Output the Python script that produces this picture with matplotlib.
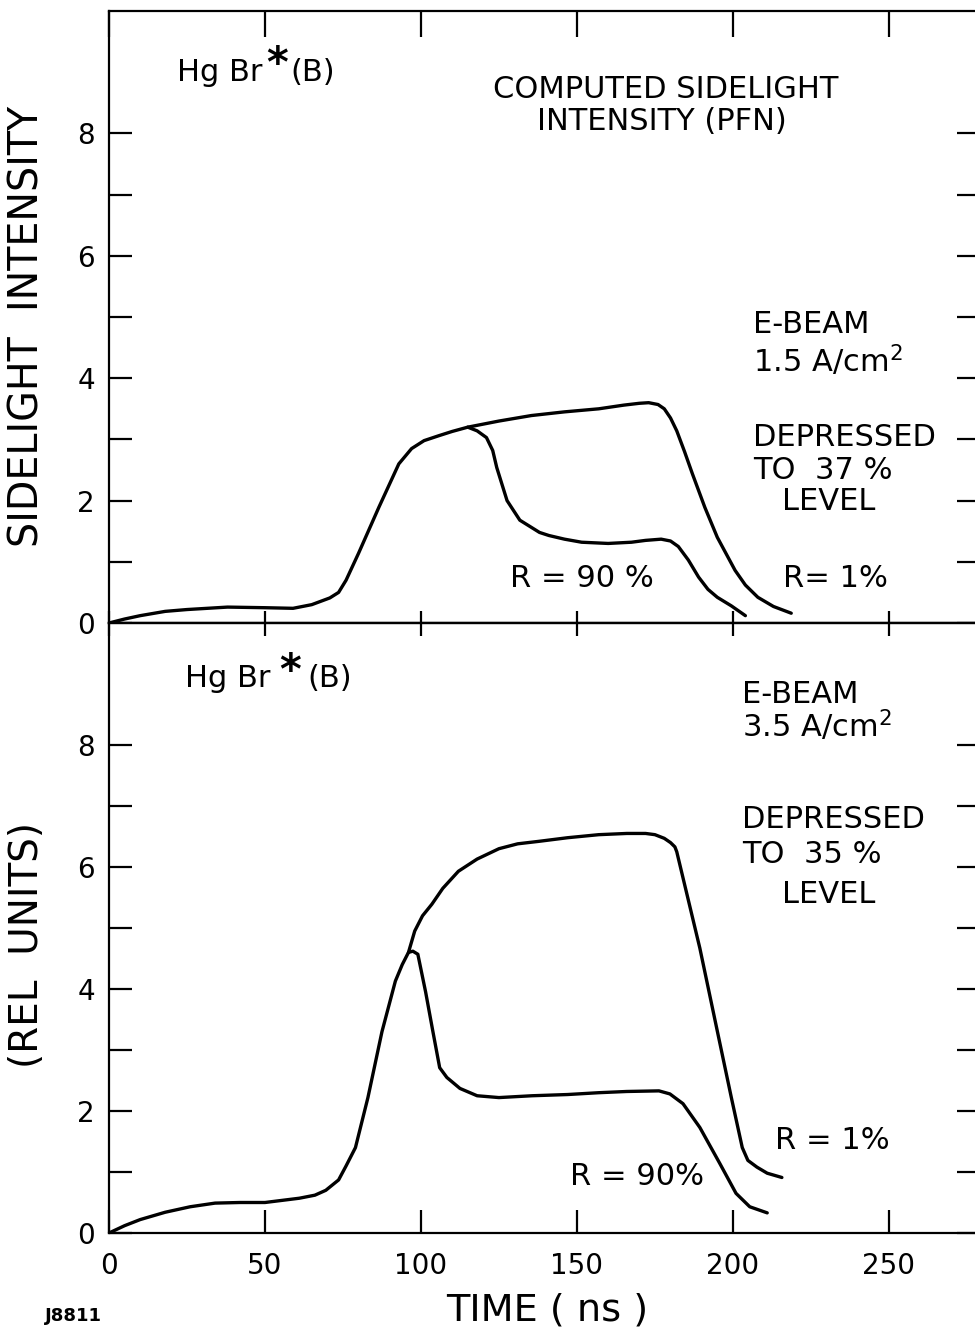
import numpy as np
import matplotlib

matplotlib.use("Agg")
import matplotlib.pyplot as plt

# ---------------------------------------------------------------------
# Computed sidelight intensity curves (time in ns, intensity rel. units)
# ---------------------------------------------------------------------
# upper panel: 1.5 A/cm^2 e-beam, shared rise then two branches
TOP_RISE_T = [0, 5, 10, 18, 25, 38, 50, 59, 65, 70.8, 73.6, 76, 80, 86.5,
              92.9, 97, 101, 105.7, 110, 115]
TOP_RISE_I = [0, 0.065, 0.12, 0.19, 0.22, 0.26, 0.25, 0.24, 0.3, 0.41, 0.5,
              0.7, 1.14, 1.89, 2.6, 2.85, 2.98, 3.06, 3.13, 3.2]
TOP_R1_T = [115, 125, 135.4, 146, 157, 165, 170, 173, 176, 178, 180, 182,
            184.5, 187, 191, 195, 200.7, 204, 208, 213, 218.7]
TOP_R1_I = [3.2, 3.3, 3.39, 3.45, 3.5, 3.56, 3.59, 3.6, 3.57, 3.5, 3.35, 3.14,
            2.8, 2.44, 1.89, 1.4, 0.86, 0.62, 0.42, 0.27, 0.16]
TOP_R90_T = [115, 118, 121, 123, 124.3, 127.6, 131.7, 138, 141, 146, 151.5,
             160, 167.5, 172, 177, 180, 182.5, 185.7, 189, 192, 195, 199.5, 204]
TOP_R90_I = [3.2, 3.14, 3.03, 2.82, 2.54, 2.0, 1.68, 1.48, 1.43, 1.37, 1.32,
             1.3, 1.32, 1.35, 1.37, 1.34, 1.25, 1.03, 0.75, 0.55, 0.42, 0.28,
             0.12]

# lower panel: 3.5 A/cm^2 e-beam
BOT_RISE_T = [0, 5, 10, 18, 26, 34, 42, 50, 61, 66, 69.5, 73.6, 76, 79, 83,
              87.5, 91.8, 94, 96]
BOT_RISE_I = [0, 0.12, 0.22, 0.34, 0.43, 0.49, 0.5, 0.5, 0.57, 0.62, 0.7,
              0.87, 1.1, 1.4, 2.22, 3.3, 4.13, 4.4, 4.6]
BOT_R1_T = [96, 98, 100.5, 103.5, 107, 112, 118, 125, 131, 137.7, 147, 157,
            166, 172, 175, 178, 180, 181.4, 182, 189.4, 195, 199.5, 203, 204.8,
            207.7, 211, 215.7]
BOT_R1_I = [4.6, 4.95, 5.2, 5.39, 5.65, 5.93, 6.13, 6.3, 6.38, 6.42, 6.48,
            6.53, 6.55, 6.55, 6.53, 6.47, 6.4, 6.33, 6.25, 4.67, 3.31, 2.22,
            1.4, 1.19, 1.08, 0.98, 0.91]
BOT_R90_T = [96, 97.4, 99, 101.5, 103.8, 106, 108.3, 112.5, 118, 125, 135.6,
             147, 157, 166, 176.3, 179.8, 184, 189.4, 195.8, 201, 205.4, 211]
BOT_R90_I = [4.6, 4.62, 4.57, 3.95, 3.31, 2.71, 2.55, 2.37, 2.25, 2.22, 2.25,
             2.27, 2.3, 2.32, 2.33, 2.28, 2.12, 1.73, 1.14, 0.65, 0.43, 0.33]

X_TICKS = [0, 50, 100, 150, 200, 250]
Y_TICKS = list(range(0, 9))
Y_LABELS = ["0", "", "2", "", "4", "", "6", "", "8"]

plt.rcParams["font.family"] = ["DejaVu Sans"]
plt.rcParams["mathtext.default"] = "regular"

LW_AX = 1.6
LW_CURVE = 2.4
FS = 20
FS_NOTE = 22

fig = plt.figure(figsize=(9.75, 13.33), dpi=100)
ax_top = fig.add_axes([0.1118, 0.53263, 0.8933, 0.45911])
ax_bot = fig.add_axes([0.1118, 0.07502, 0.8933, 0.45761])

for ax in (ax_top, ax_bot):
    ax.set_xlim(0, 279.2)
    ax.set_ylim(0, 10)
    ax.set_xticks(X_TICKS)
    ax.set_yticks(Y_TICKS)
    ax.set_yticklabels(Y_LABELS)
    for sp in ax.spines.values():
        sp.set_linewidth(LW_AX)
    ax.tick_params(axis="y", direction="in", left=True, right=True,
                   length=16.5, width=LW_AX, labelsize=FS, pad=10)

# upper panel: ticks hang from the top edge only
ax_top.tick_params(axis="x", direction="in", top=True, bottom=False,
                   labelbottom=False, labeltop=False, length=18.5,
                   width=LW_AX)

# lower panel: inward ticks below, crossing ticks on the shared line
ax_bot.tick_params(axis="x", direction="in", top=False, bottom=True,
                   length=16.5, width=LW_AX, labelsize=FS, pad=14)
sec = ax_bot.secondary_xaxis("top")
sec.set_xticks(X_TICKS)
sec.tick_params(axis="x", direction="inout", length=18, width=LW_AX,
                labeltop=False)
sec.spines["top"].set_linewidth(LW_AX)

# curves
ax_top.plot(TOP_RISE_T + TOP_R1_T[1:], TOP_RISE_I + TOP_R1_I[1:],
            color="black", lw=LW_CURVE, solid_capstyle="round")
ax_top.plot(TOP_R90_T, TOP_R90_I, color="black", lw=LW_CURVE,
            solid_capstyle="round")
ax_bot.plot(BOT_RISE_T + BOT_R1_T[1:], BOT_RISE_I + BOT_R1_I[1:],
            color="black", lw=LW_CURVE, solid_capstyle="round")
ax_bot.plot(BOT_R90_T, BOT_R90_I, color="black", lw=LW_CURVE,
            solid_capstyle="round")

# annotations, upper panel
kw = dict(fontsize=FS_NOTE, va="center", ha="left")
ax_top.text(21.8, 8.99, "Hg Br", **kw)
ax_top.text(50.3, 9.12, "*", fontsize=30, fontweight="bold", va="center")
ax_top.text(58.0, 8.99, "(B)", **kw)
ax_top.text(178.5, 8.71, "COMPUTED SIDELIGHT", fontsize=FS_NOTE,
            ha="center", va="center")
ax_top.text(177.2, 8.19, "INTENSITY (PFN)", fontsize=FS_NOTE, ha="center",
            va="center")
ax_top.text(206.4, 4.87, "E-BEAM", **kw)
ax_top.text(206.4, 4.28, "1.5 A/cm$^{2}$", **kw)
ax_top.text(206.4, 3.03, "DEPRESSED", **kw)
ax_top.text(206.4, 2.49, "TO  37 %", **kw)
ax_top.text(215.7, 1.98, "LEVEL", **kw)
ax_top.text(128.5, 0.72, "R = 90 %", **kw)
ax_top.text(216.0, 0.72, "R= 1%", **kw)

# annotations, lower panel
ax_bot.text(24.4, 9.09, "Hg Br", **kw)
ax_bot.text(54.6, 9.2, "*", fontsize=30, fontweight="bold", va="center")
ax_bot.text(63.5, 9.09, "(B)", **kw)
ax_bot.text(202.9, 8.82, "E-BEAM", **kw)
ax_bot.text(202.9, 8.31, "3.5 A/cm$^{2}$", **kw)
ax_bot.text(202.9, 6.78, "DEPRESSED", **kw)
ax_bot.text(202.9, 6.2, "TO  35 %", **kw)
ax_bot.text(215.7, 5.55, "LEVEL", **kw)
ax_bot.text(213.5, 1.52, "R = 1%", **kw)
ax_bot.text(147.8, 0.93, "R = 90%", **kw)

# axis titles
fig.text(0.028, 0.755, "SIDELIGHT  INTENSITY", rotation=90, fontsize=28.5,
         ha="center", va="center")
fig.text(0.028, 0.291, "(REL  UNITS)", rotation=90, fontsize=28,
         ha="center", va="center")
fig.text(0.561, 0.0172, "TIME ( ns )", fontsize=27.5, ha="center",
         va="center")
fig.text(0.046, 0.0128, "J8811", fontsize=13, fontweight="bold",
         ha="left", va="center")

fig.savefig("out.png", dpi=100)
